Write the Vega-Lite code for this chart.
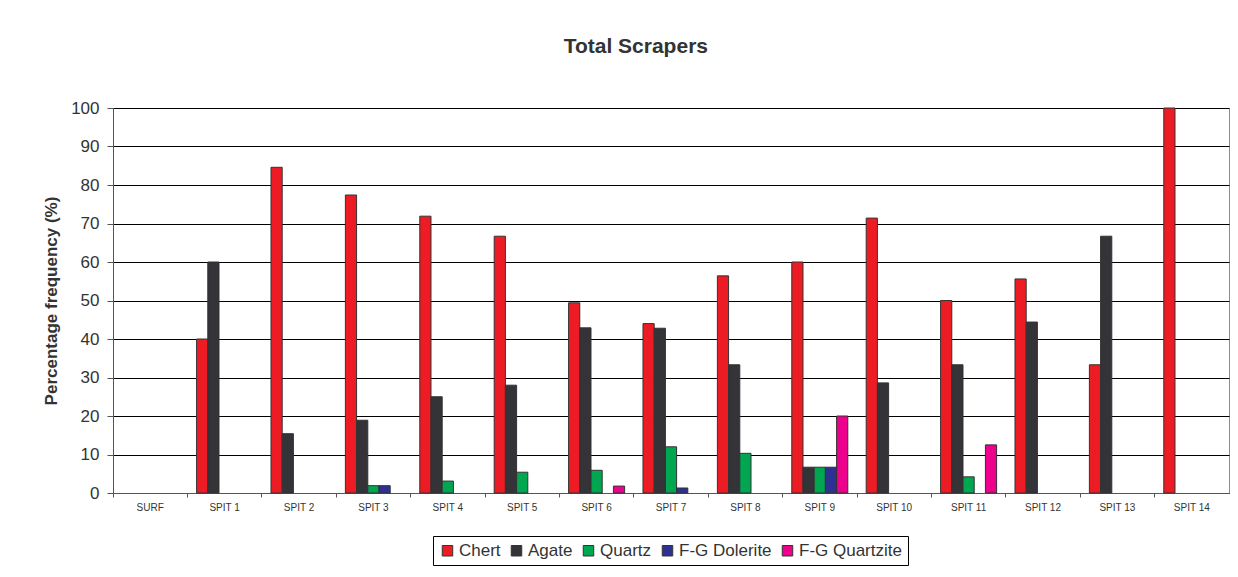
{
  "$schema": "https://vega.github.io/schema/vega-lite/v6.json",
  "autosize": "none",
  "width": 1116,
  "height": 385,
  "padding": {"left": 113, "top": 108, "right": 9, "bottom": 84},
  "background": "white",
  "title": {
    "text": "Total Scrapers",
    "font": "Liberation Sans",
    "fontSize": 21,
    "fontWeight": "bold",
    "color": "#333333",
    "anchor": "middle",
    "frame": "bounds",
    "baseline": "alphabetic",
    "offset": 25
  },
  "data": {
    "values": [
      {"spit": "SPIT 1", "material": "Chert", "pct": 40},
      {"spit": "SPIT 1", "material": "Agate", "pct": 60},
      {"spit": "SPIT 2", "material": "Chert", "pct": 84.6},
      {"spit": "SPIT 2", "material": "Agate", "pct": 15.4},
      {"spit": "SPIT 3", "material": "Chert", "pct": 77.4},
      {"spit": "SPIT 3", "material": "Agate", "pct": 18.9},
      {"spit": "SPIT 3", "material": "Quartz", "pct": 1.9},
      {"spit": "SPIT 3", "material": "F-G Dolerite", "pct": 1.9},
      {"spit": "SPIT 4", "material": "Chert", "pct": 71.9},
      {"spit": "SPIT 4", "material": "Agate", "pct": 25},
      {"spit": "SPIT 4", "material": "Quartz", "pct": 3.1},
      {"spit": "SPIT 5", "material": "Chert", "pct": 66.7},
      {"spit": "SPIT 5", "material": "Agate", "pct": 28},
      {"spit": "SPIT 5", "material": "Quartz", "pct": 5.4},
      {"spit": "SPIT 6", "material": "Chert", "pct": 49.4},
      {"spit": "SPIT 6", "material": "Agate", "pct": 42.9},
      {"spit": "SPIT 6", "material": "Quartz", "pct": 5.9},
      {"spit": "SPIT 6", "material": "F-G Quartzite", "pct": 1.8},
      {"spit": "SPIT 7", "material": "Chert", "pct": 44},
      {"spit": "SPIT 7", "material": "Agate", "pct": 42.8},
      {"spit": "SPIT 7", "material": "Quartz", "pct": 12},
      {"spit": "SPIT 7", "material": "F-G Dolerite", "pct": 1.3},
      {"spit": "SPIT 8", "material": "Chert", "pct": 56.4},
      {"spit": "SPIT 8", "material": "Agate", "pct": 33.3},
      {"spit": "SPIT 8", "material": "Quartz", "pct": 10.3},
      {"spit": "SPIT 9", "material": "Chert", "pct": 60},
      {"spit": "SPIT 9", "material": "Agate", "pct": 6.7},
      {"spit": "SPIT 9", "material": "Quartz", "pct": 6.7},
      {"spit": "SPIT 9", "material": "F-G Dolerite", "pct": 6.7},
      {"spit": "SPIT 9", "material": "F-G Quartzite", "pct": 20},
      {"spit": "SPIT 10", "material": "Chert", "pct": 71.4},
      {"spit": "SPIT 10", "material": "Agate", "pct": 28.6},
      {"spit": "SPIT 11", "material": "Chert", "pct": 50},
      {"spit": "SPIT 11", "material": "Agate", "pct": 33.3},
      {"spit": "SPIT 11", "material": "Quartz", "pct": 4.2},
      {"spit": "SPIT 11", "material": "F-G Quartzite", "pct": 12.5},
      {"spit": "SPIT 12", "material": "Chert", "pct": 55.6},
      {"spit": "SPIT 12", "material": "Agate", "pct": 44.4},
      {"spit": "SPIT 13", "material": "Chert", "pct": 33.3},
      {"spit": "SPIT 13", "material": "Agate", "pct": 66.7},
      {"spit": "SPIT 14", "material": "Chert", "pct": 100}
    ]
  },
  "mark": {"type": "bar", "stroke": "#333333", "strokeWidth": 1},
  "encoding": {
    "x": {
      "field": "spit",
      "type": "nominal",
      "sort": null,
      "scale": {
        "domain": ["SURF", "SPIT 1", "SPIT 2", "SPIT 3", "SPIT 4", "SPIT 5", "SPIT 6", "SPIT 7", "SPIT 8", "SPIT 9", "SPIT 10", "SPIT 11", "SPIT 12", "SPIT 13", "SPIT 14"],
        "paddingInner": 0,
        "paddingOuter": 0
      },
      "axis": {
        "title": null,
        "labelAngle": 0,
        "labelFont": "Liberation Sans",
        "labelFontSize": 10,
        "labelColor": "#333333",
        "labelPadding": 5,
        "tickSize": 4,
        "tickColor": "#555555",
        "bandPosition": 0,
        "domainColor": "#555555",
        "grid": false
      }
    },
    "xOffset": {
      "field": "material",
      "type": "nominal",
      "scale": {
        "domain": ["Chert", "Agate", "Quartz", "F-G Dolerite", "F-G Quartzite"],
        "paddingInner": 0,
        "paddingOuter": 0.82
      }
    },
    "y": {
      "field": "pct",
      "type": "quantitative",
      "scale": {"domain": [0, 100], "nice": false},
      "axis": {
        "title": "Percentage frequency (%)",
        "titleFont": "Liberation Sans",
        "titleFontSize": 17,
        "titleFontWeight": "bold",
        "titleColor": "#333333",
        "titlePadding": 10,
        "values": [0, 10, 20, 30, 40, 50, 60, 70, 80, 90, 100],
        "labelFont": "Liberation Sans",
        "labelFontSize": 17,
        "labelColor": "#333333",
        "labelPadding": 8,
        "tickSize": 6,
        "tickColor": "#555555",
        "domainColor": "#555555",
        "grid": true,
        "gridColor": "#000000",
        "gridWidth": 1
      }
    },
    "color": {
      "field": "material",
      "type": "nominal",
      "scale": {
        "domain": ["Chert", "Agate", "Quartz", "F-G Dolerite", "F-G Quartzite"],
        "range": ["#ED1C24", "#333338", "#00A650", "#2E3192", "#EC008C"]
      },
      "legend": {
        "title": null,
        "orient": "none",
        "legendX": 320,
        "legendY": 428,
        "direction": "horizontal",
        "columns": 5,
        "symbolType": "square",
        "symbolSize": 110,
        "symbolStrokeColor": "#333333",
        "symbolStrokeWidth": 1,
        "symbolOpacity": 1,
        "labelFont": "Liberation Sans",
        "labelFontSize": 17,
        "labelColor": "#333333",
        "labelOffset": 3,
        "columnPadding": 7,
        "padding": 6,
        "strokeColor": "#000000",
        "fillColor": "white"
      }
    }
  },
  "config": {
    "view": {"stroke": "#8c8c8c", "strokeWidth": 1}
  }
}
